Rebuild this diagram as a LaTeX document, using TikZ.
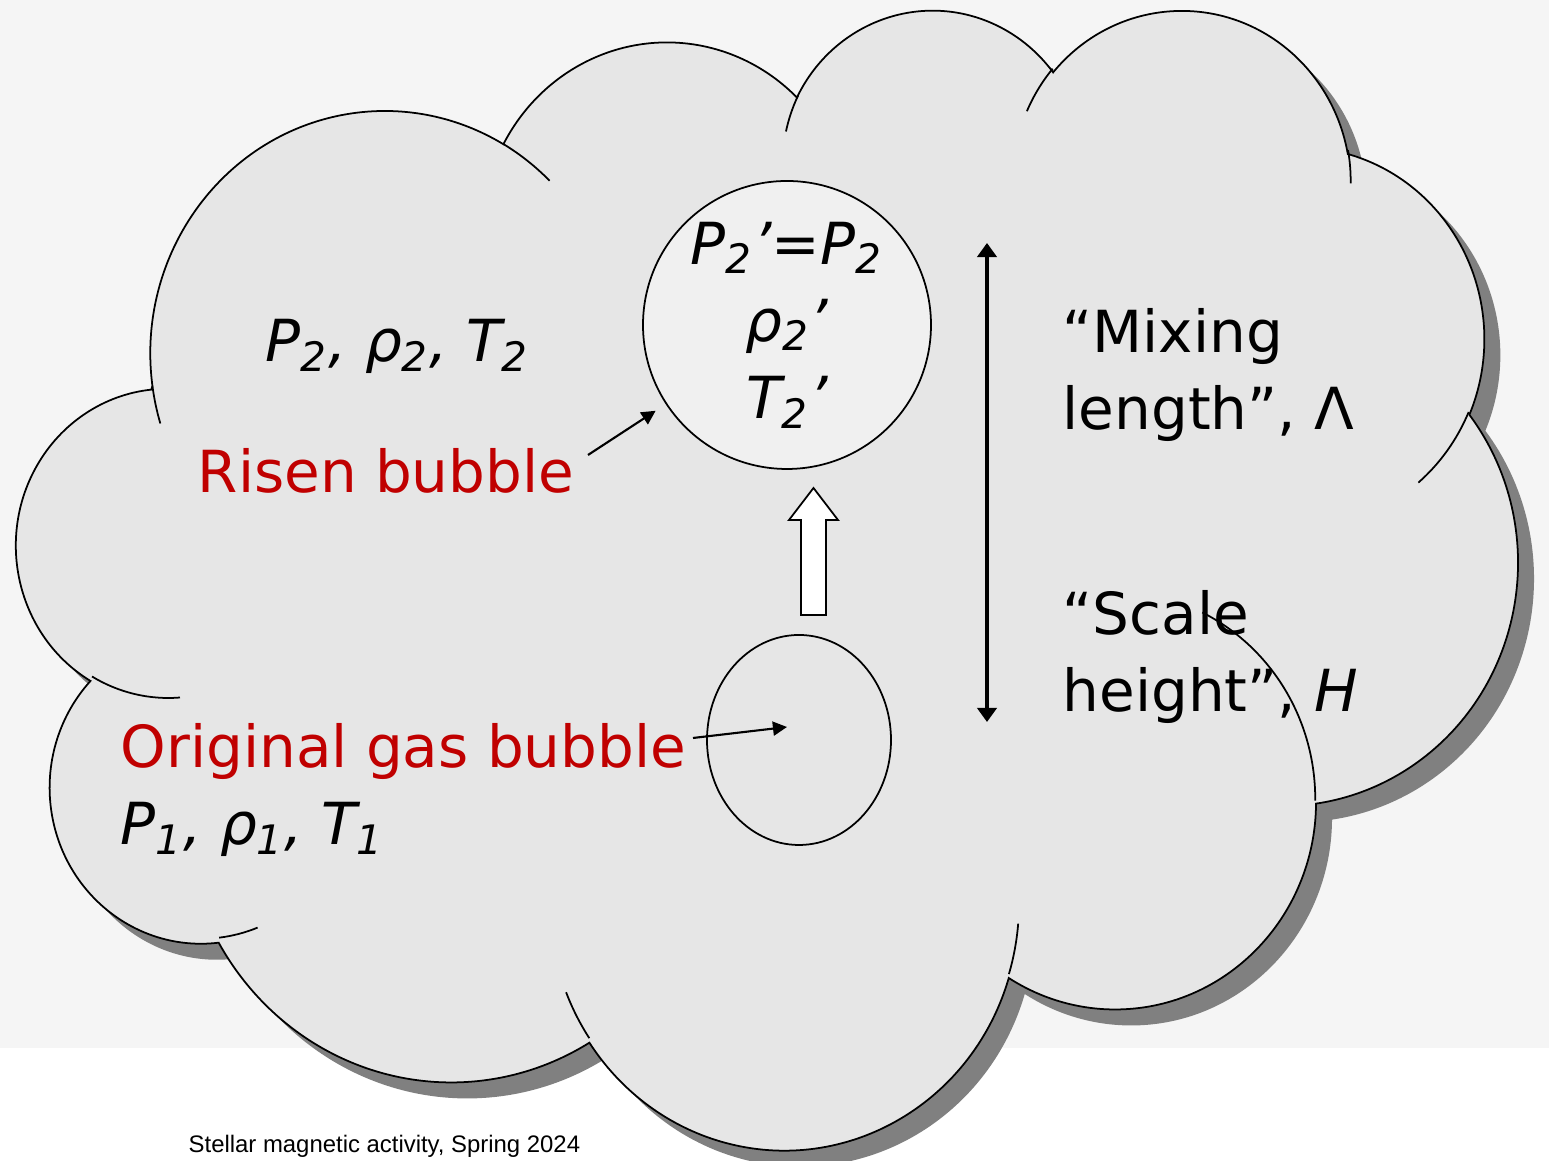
\documentclass[tikz,border=0pt]{standalone}
\usepackage{fontspec}
\setmainfont{DejaVu Sans}
\newfontfamily\piedfont{Liberation Sans}
\usepackage{tikz}
\usetikzlibrary{arrows.meta,shapes.geometric,positioning}
\definecolor{grisFond}{RGB}{245,245,245}
\definecolor{grisNuage}{RGB}{230,230,230}
\definecolor{grisOmbre}{RGB}{128,128,128}
\definecolor{grisBulle}{RGB}{240,240,240}
\definecolor{rougeBulle}{RGB}{192,0,0}

% contour du nuage (unites : 1/1000 de la boite 43200)
\newcommand{\contourNuage}{(3.900,14.370)
  arc[start angle=-187.745,end angle=-59.63,x radius=6.753,y radius=9.190]
  arc[start angle=-152.040,end angle=-45.450,x radius=5.333,y radius=7.267]
  arc[start angle=-153.489,end angle=-37.33,x radius=4.365,y radius=5.945]
  arc[start angle=-139.72,end angle=-10.211,x radius=4.857,y radius=6.595]
  arc[start angle=-74.77,end angle=23.211,x radius=5.333,y radius=7.273]
  arc[start angle=-37.51,end angle=81.862,x radius=6.775,y radius=9.220]
  arc[start angle=0.4596,end angle=121.97,x radius=5.785,y radius=7.867]
  arc[start angle=16.845,end angle=146.226,x radius=6.752,y radius=9.215]
  arc[start angle=58.985,end angle=150.171,x radius=7.720,y radius=10.543]
  arc[start angle=-276.694,end angle=-136.893,x radius=4.360,y radius=5.918]
  arc[start angle=-239.65,end angle=-95.887,x radius=4.345,y radius=5.945]
  -- cycle}

\begin{document}
\begin{tikzpicture}[font=\fontsize{16.5}{22}\selectfont,
  texte/.style={inner sep=0pt,anchor=base west},
  rouge/.style={texte,text=rougeBulle},
  fleche/.style={-{Triangle[length=4pt,width=4pt]},line width=0.6pt}]

  % fond de la diapo
  \useasboundingbox (0,0) rectangle (15.49,11.61);
  \fill[white] (0,0) rectangle (15.49,11.61);
  \fill[grisFond] (0,1.13) rectangle (15.49,11.61);

  % ombre
  \begin{scope}[shift={(0.33,11.38)},xscale=0.3473,yscale=-0.2638]
    \fill[grisOmbre] \contourNuage;
  \end{scope}

  % nuage
  \begin{scope}[shift={(0.17,11.54)},xscale=0.3473,yscale=-0.2638]
    \filldraw[fill=grisNuage,draw=black,line width=0.5pt] \contourNuage;
    \draw[line width=0.5pt]
      (4.693,26.177) arc[start angle=85.546,end angle=120.35,x radius=4.345,y radius=5.945]
      (6.928,34.899) arc[start angle=68.236,end angle=83.306,x radius=4.360,y radius=5.918]
      (16.478,39.090) arc[start angle=146.226,end angle=158.472,x radius=6.752,y radius=9.215]
      (28.827,34.751) arc[start angle=4.738,end angle=16.845,x radius=6.752,y radius=9.215]
      (34.129,22.954) arc[start angle=-64.03,end angle=0.4596,x radius=5.785,y radius=7.867]
      (41.798,15.354) arc[start angle=23.211,end angle=49.65,x radius=5.333,y radius=7.273]
      (38.324,5.426) arc[start angle=-10.211,end angle=0.821,x radius=4.857,y radius=6.595]
      (29.078,3.952) arc[start angle=-156.29,end angle=-139.72,x radius=4.857,y radius=6.595]
      (22.141,4.720) arc[start angle=-167.726,end angle=-153.8,x radius=4.365,y radius=5.945]
      (14.000,5.192) arc[start angle=-59.63,end angle=-45.3,x radius=6.753,y radius=9.190]
      (4.127,15.789) arc[start angle=-196.81,end angle=-187.745,x radius=6.753,y radius=9.190];
  \end{scope}

  % bulles
  \node[circle,draw,line width=0.5pt,fill=grisBulle,minimum size=2.88cm,inner sep=0pt,
        align=center] (risen) at (7.87,8.36)
    {\itshape P\textsubscript{2}'=P\textsubscript{2}\\ \itshape ρ\textsubscript{2}'\\ \itshape T\textsubscript{2}'};
  \node[ellipse,draw,line width=0.5pt,minimum width=1.84cm,minimum height=2.10cm] (orig) at (7.99,4.21) {};

  % fleche creuse
  \coordinate (montee) at (8.135,5.46);
  \draw[fill=white,line width=0.5pt] ([xshift=-0.125cm]montee) -- ++(0,0.95) -- ++(-0.12,0)
    -- ++(0.245,0.32) -- ++(0.245,-0.32) -- ++(-0.12,0) -- ++(0,-0.95) -- cycle;

  % longueur de melange
  \coordinate (melHaut) at (9.87,9.18);
  \coordinate (melBas) at (9.87,4.39);
  \draw[{Triangle[length=4pt,width=5.5pt]}-{Triangle[length=4pt,width=5.5pt]},line width=0.9pt]
    (melBas) -- (melHaut);

  % textes
  \node[texte] (etat2) at (2.65,7.99) {\itshape P\textsubscript{2}, ρ\textsubscript{2}, T\textsubscript{2}};
  \node[rouge] (risenLbl) at (1.97,6.68) {Risen bubble};
  \node[rouge] (origLbl) at (1.20,3.93) {Original gas bubble};
  \node[texte] (etat1) at (1.20,3.16) {\itshape P\textsubscript{1}, ρ\textsubscript{1}, T\textsubscript{1}};
  \node[texte,align=left] (melange) at (10.62,7.31) {“Mixing\\length”, Λ};
  \node[texte,align=left] (echelle) at (10.62,4.49) {“Scale\\height”, \textit{H}};
  \node[texte,font=\piedfont\fontsize{6.8}{8}\selectfont] (pied) at (1.88,0.08)
    {Stellar magnetic activity, Spring 2024};

  % pointeurs
  \coordinate (risenQueue) at (5.88,7.06);
  \draw[fleche,shorten >=0.12cm] (risenQueue) -- (risen);
  \coordinate (origQueue) at (6.93,4.23);
  \coordinate (origPointe) at (7.87,4.34);
  \draw[fleche] (origQueue) -- (origPointe);
\end{tikzpicture}
\end{document}
